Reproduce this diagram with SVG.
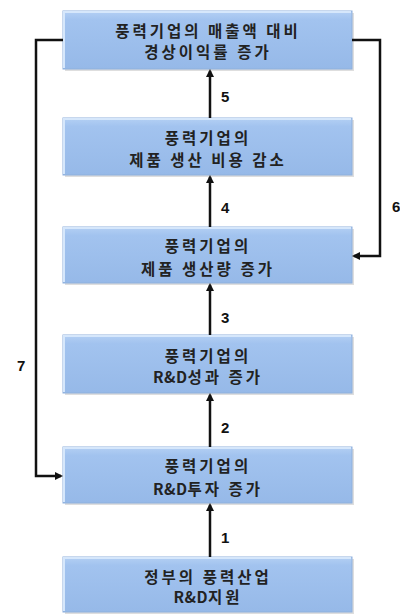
<svg xmlns="http://www.w3.org/2000/svg" width="400" height="615" viewBox="0 0 400 615">
<style>
.box{fill:url(#g);stroke:#8fb0dc;stroke-width:1}
.bev{fill:none;stroke:#d6e7fb;stroke-width:2}
.sh{fill:#c8c8c8;opacity:.6}
.t{font-family:"Noto Sans CJK KR","Noto Sans",sans-serif;font-weight:bold;font-size:15.5px;fill:#222;text-anchor:middle;letter-spacing:3px}
.l{letter-spacing:0.5px}
.n{font-family:"Liberation Sans","Noto Sans",sans-serif;font-weight:bold;font-size:15px;fill:#111}
.c{fill:none;stroke:#111;stroke-width:2.5}
</style>
<defs>
<linearGradient id="g" x1="0" y1="0" x2="0" y2="1">
<stop offset="0" stop-color="#b4d0f4"/>
<stop offset="0.15" stop-color="#a2c3ef"/>
<stop offset="1" stop-color="#96b9e8"/>
</linearGradient>
<marker id="ah" markerWidth="8" markerHeight="8" refX="6" refY="4" orient="auto" markerUnits="userSpaceOnUse">
<path d="M0,0 L8,4 L0,8 z" fill="#111"/>
</marker>
</defs>
<rect width="400" height="615" fill="#fff"/>
<g id="n1">
<rect class="sh" x="65" y="13" width="289" height="58"/>
<rect class="box" x="63" y="11" width="289" height="58"/>
<path class="bev" d="M64,68 V12 H351"/>
<text class="t" x="208" y="37">풍력기업의 매출액 대비</text>
<text class="t" x="208" y="58">경상이익률 증가</text>
</g>
<g id="n2">
<rect class="sh" x="65" y="120" width="289" height="57"/>
<rect class="box" x="63" y="118" width="289" height="57"/>
<path class="bev" d="M64,174 V119 H351"/>
<text class="t" x="208" y="144">풍력기업의</text>
<text class="t" x="208" y="166">제품 생산 비용 감소</text>
</g>
<g id="n3">
<rect class="sh" x="65" y="229" width="289" height="56"/>
<rect class="box" x="63" y="227" width="289" height="56"/>
<path class="bev" d="M64,282 V228 H351"/>
<text class="t" x="208" y="252">풍력기업의</text>
<text class="t" x="208" y="275">제품 생산량 증가</text>
</g>
<g id="n4">
<rect class="sh" x="65" y="337" width="289" height="58"/>
<rect class="box" x="63" y="335" width="289" height="58"/>
<path class="bev" d="M64,392 V336 H351"/>
<text class="t" x="208" y="362">풍력기업의</text>
<text class="t" x="208" y="383"><tspan class="l">R&amp;D</tspan>성과 증가</text>
</g>
<g id="n5">
<rect class="sh" x="65" y="449" width="289" height="56"/>
<rect class="box" x="63" y="447" width="289" height="56"/>
<path class="bev" d="M64,502 V448 H351"/>
<text class="t" x="208" y="472">풍력기업의</text>
<text class="t" x="208" y="495"><tspan class="l">R&amp;D</tspan>투자 증가</text>
</g>
<g id="n6">
<rect class="sh" x="65" y="559" width="289" height="55"/>
<rect class="box" x="63" y="557" width="289" height="55"/>
<path class="bev" d="M64,611 V558 H351"/>
<text class="t" x="208" y="583">정부의 풍력산업</text>
<text class="t" x="208" y="603"><tspan class="l">R&amp;D</tspan>지원</text>
</g>
<g id="connectors">
<path class="c" d="M210,118 V71" marker-end="url(#ah)"/>
<path class="c" d="M210,227 V177" marker-end="url(#ah)"/>
<path class="c" d="M210,335 V285" marker-end="url(#ah)"/>
<path class="c" d="M210,447 V395" marker-end="url(#ah)"/>
<path class="c" d="M210,557 V505" marker-end="url(#ah)"/>
<path class="c" d="M63,40 H36 V476 H61" marker-end="url(#ah)"/>
<path class="c" d="M352,40 H380 V256 H354" marker-end="url(#ah)"/>
<text class="n" x="221" y="102">5</text>
<text class="n" x="221" y="213">4</text>
<text class="n" x="221" y="323">3</text>
<text class="n" x="221" y="433">2</text>
<text class="n" x="221" y="543">1</text>
<text class="n" x="392" y="212">6</text>
<text class="n" x="17" y="371">7</text>
</g>
</svg>
